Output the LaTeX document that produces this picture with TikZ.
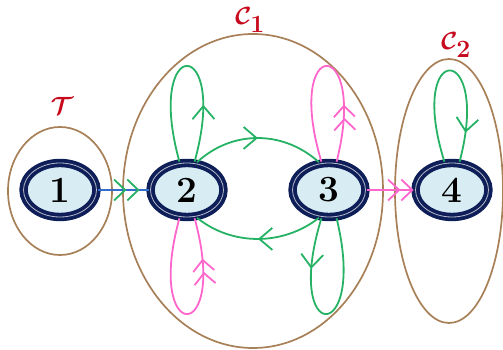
\documentclass[tikz,border=0pt]{standalone}
\usepackage{amsmath,amssymb}
\usetikzlibrary{positioning,arrows.meta,decorations.markings,shapes.geometric}

\definecolor{ringblue}{RGB}{14,30,88}
\definecolor{statefill}{RGB}{216,236,244}
\definecolor{grn}{RGB}{38,178,100}
\definecolor{pnk}{RGB}{255,102,204}
\definecolor{brwn}{RGB}{168,128,88}
\definecolor{lblred}{RGB}{200,10,30}
\definecolor{lnblue}{RGB}{50,110,200}

\tikzset{
  chev/.tip={Straight Barb[length=13pt,width=22pt]},
  dchev/.tip={Straight Barb[length=11pt,width=21pt] Straight Barb[length=11pt,width=21pt]}
}

\begin{document}
\begin{tikzpicture}[x=1pt,y=1pt,
  state/.style={ellipse, draw=ringblue, line width=3.8pt, double=white!70!ringblue,
                double distance=0.8pt, fill=statefill, minimum width=73pt,
                minimum height=54pt, inner sep=0pt, font=\fontsize{37}{37}\selectfont\bfseries},
  clus/.style={ellipse, draw=brwn, line width=1.7pt, inner sep=0pt},
  lbl/.style={text=lblred, inner sep=0pt, font=\fontsize{34}{34}\selectfont\boldmath},
  garr/.style={draw=grn, line width=1.8pt},
  parr/.style={draw=pnk, line width=1.8pt},
  tipat/.style 2 args={postaction={decorate,
      decoration={markings, mark=at position #1 with {\arrow{#2}}}}}]
\useasboundingbox (0,0) rectangle (503,350);

% clusters
\node[clus, minimum width=104pt, minimum height=128pt] (T)  at (60,159)  {};
\node[clus, minimum width=260pt, minimum height=314pt] (C1) at (253,159) {};
\node[clus, minimum width=108pt, minimum height=264pt] (C2) at (449,159) {};
\node[lbl] (tT)  at (62,244)  {$\mathcal{T}$};
\node[lbl] (tC1) at (250,330) {$\mathcal{C}_{1}$};
\node[lbl] (tC2) at (456,305) {$\mathcal{C}_{2}$};

% states
\node[state] (n1) at (60,160)  {1};
\node[state] (n2) at (187,160) {2};
\node[state] (n3) at (329,160) {3};
\node[state] (n4) at (452,160) {4};

% transitions
\draw[draw=lnblue, line width=1.5pt, postaction={decorate, decoration={markings,
      mark=at position 0.82 with {\arrow[grn, line width=1.8pt]{dchev}}}}] (n1) -- (n2);
\draw[parr, -{dchev}] (n3) -- (n4);
\draw[garr, tipat={0.5}{chev}] (n2.70) .. controls (232,220) and (283,220) .. (n3.110);
\draw[garr, tipat={0.5}{chev}] (n3.250) .. controls (283,104) and (232,104) .. (n2.290);

% self loops
\draw[garr, tipat={0.28}{chev}] (n2.75) .. controls (230,316) and (144,316) .. (n2.105);
\draw[parr, tipat={0.8}{dchev}] (n2.255) .. controls (144,4) and (230,4) .. (n2.285);
\draw[parr, tipat={0.28}{dchev}] (n3.75) .. controls (369,316) and (283,316) .. (n3.105);
\draw[garr, tipat={0.25}{chev}] (n3.255) .. controls (282,4) and (368,4) .. (n3.285);
\draw[garr, tipat={0.85}{chev}] (n4.105) .. controls (406,310) and (492,310) .. (n4.75);
\end{tikzpicture}
\end{document}
